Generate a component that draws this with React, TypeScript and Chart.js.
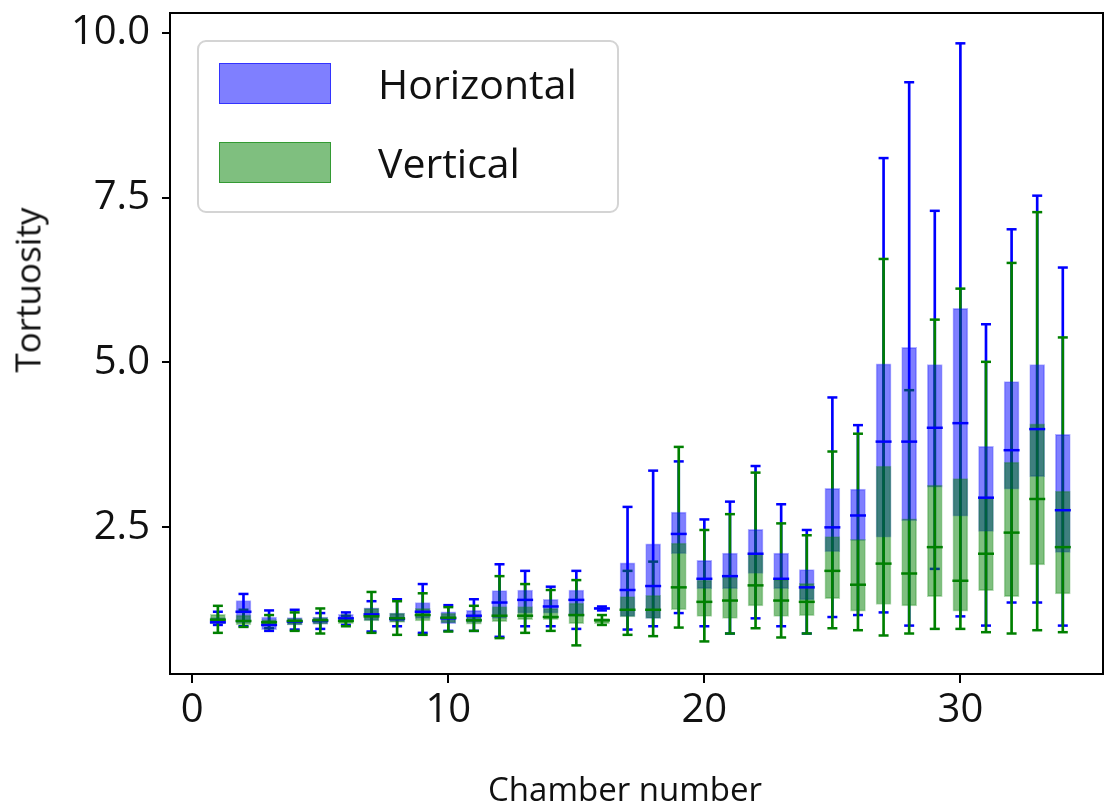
import React, { useEffect, useRef } from "react";
import { Chart, registerables } from "chart.js";

Chart.register(...registerables);

// ---------- data ----------
const chambers = [
  1, 2, 3, 4, 5, 6, 7, 8, 9, 10, 11, 12, 13, 14, 15, 16, 17,
  18, 19, 20, 21, 22, 23, 24, 25, 26, 27, 28, 29, 30, 31, 32, 33, 34,
];

// Horizontal series: min, Q1, median, Q3, max
const hMin = [1.02, 1.0, 0.93, 0.95, 0.96, 1.02, 0.92, 1.0, 0.9, 0.93, 0.93, 0.84, 1.0, 1.0, 0.96, 1.24, 0.95,
  1.0, 1.2, 1.0, 0.89, 1.12, 1.0, 0.89, 1.14, 1.17, 1.21, 1.01, 1.87, 1.15, 1.01, 1.36, 1.36, 1.01];
const hQ1 = [1.04, 1.05, 0.95, 1.02, 1.03, 1.07, 1.09, 1.07, 1.12, 1.04, 1.06, 1.12, 1.2, 1.2, 1.15, 1.25, 1.15,
  1.12, 2.1, 1.57, 1.57, 1.8, 1.57, 1.4, 2.13, 2.3, 2.35, 2.6, 3.11, 2.67, 2.44, 3.08, 3.27, 2.12];
const hMed = [1.06, 1.22, 1.02, 1.07, 1.08, 1.12, 1.18, 1.11, 1.22, 1.12, 1.16, 1.36, 1.4, 1.3, 1.4, 1.27, 1.55,
  1.61, 2.4, 1.72, 1.76, 2.1, 1.72, 1.59, 2.5, 2.68, 3.8, 3.8, 4.01, 4.08, 2.95, 3.67, 3.99, 2.76];
const hQ3 = [1.13, 1.39, 1.14, 1.13, 1.14, 1.18, 1.28, 1.2, 1.36, 1.22, 1.24, 1.54, 1.55, 1.41, 1.55, 1.29, 1.96,
  2.25, 2.73, 2.0, 2.11, 2.47, 2.11, 1.86, 3.09, 3.08, 4.98, 5.23, 4.97, 5.82, 3.73, 4.71, 4.97, 3.91];
const hMax = [1.22, 1.49, 1.24, 1.25, 1.2, 1.21, 1.38, 1.41, 1.64, 1.32, 1.41, 1.94, 1.84, 1.6, 1.84, 1.3, 2.81,
  3.36, 3.5, 2.62, 2.89, 3.43, 2.85, 2.46, 4.47, 4.05, 8.1, 9.25, 7.3, 9.84, 5.58, 7.02, 7.53, 6.44];

// Vertical series: min, Q1, median, Q3, max
const vMin = [0.9, 0.99, 0.97, 0.93, 0.89, 1.0, 0.9, 0.87, 0.87, 0.92, 0.93, 0.82, 0.9, 0.93, 0.71, 1.02, 0.87,
  0.85, 0.98, 0.77, 0.89, 0.97, 0.83, 0.89, 0.97, 0.94, 0.86, 0.89, 0.96, 0.96, 0.91, 0.89, 0.94, 0.91];
const vQ1 = [1.04, 1.02, 1.0, 1.02, 1.03, 1.04, 1.08, 1.06, 1.08, 1.05, 1.03, 1.07, 1.1, 1.1, 1.04, 1.04, 1.14,
  1.12, 1.25, 1.15, 1.12, 1.31, 1.15, 1.16, 1.42, 1.23, 1.33, 1.31, 1.45, 1.23, 1.54, 1.45, 1.93, 1.49];
const vMed = [1.1, 1.08, 1.06, 1.08, 1.09, 1.08, 1.15, 1.12, 1.17, 1.13, 1.09, 1.16, 1.16, 1.14, 1.17, 1.09, 1.25,
  1.25, 1.59, 1.37, 1.39, 1.62, 1.39, 1.37, 1.84, 1.63, 1.95, 1.8, 2.2, 1.69, 2.1, 2.42, 2.93, 2.2];
const vQ3 = [1.18, 1.17, 1.1, 1.12, 1.13, 1.12, 1.27, 1.2, 1.27, 1.2, 1.15, 1.3, 1.3, 1.27, 1.35, 1.12, 1.45,
  1.47, 2.26, 1.7, 1.75, 2.1, 1.71, 1.65, 2.36, 2.32, 3.43, 2.63, 3.14, 3.24, 2.95, 3.49, 4.07, 3.05];
const vMax = [1.31, 1.25, 1.17, 1.21, 1.27, 1.16, 1.52, 1.38, 1.5, 1.29, 1.31, 1.76, 1.64, 1.55, 1.7, 1.17, 1.84,
  1.98, 3.72, 2.46, 2.7, 3.33, 2.56, 2.38, 3.65, 3.92, 6.57, 4.58, 5.65, 6.12, 5.01, 6.51, 7.28, 5.38];

const seriesNames = ["Horizontal", "Vertical"];
const xTickValues = [0, 10, 20, 30];
const yTickValues = [2.5, 5, 7.5, 10];
const xAxisTitle = "Chamber number";
const yAxisTitle = "Tortuosity";

// ---------- styles ----------
const FONT = "'Open Sans', 'DejaVu Sans', sans-serif";
const BLUE = "#0000ff";
const GREEN = "#008000";
const BLUE_FILL = "rgba(0,0,255,0.5)";
const GREEN_FILL = "rgba(0,128,0,0.5)";
const seriesFill = [BLUE_FILL, GREEN_FILL];
const seriesEdge = ["rgba(0,0,255,0.6)", "rgba(0,128,0,0.6)"];

const ranges = (lo: number[], hi: number[]) =>
  chambers.map((c, i) => ({ x: c, y: [lo[i], hi[i]] }));
const points = (vals: number[]) => chambers.map((c, i) => ({ x: c, y: vals[i] }));
const capPoints = (lo: number[], hi: number[]) =>
  chambers.flatMap((c, i) => [
    { x: c, y: lo[i] },
    { x: c, y: hi[i] },
  ]);

const framePlugin = {
  id: "frame",
  afterDraw(chart: any) {
    const { ctx, chartArea } = chart;
    const { left, top, right, bottom } = chartArea;
    ctx.save();
    ctx.strokeStyle = "#000";
    ctx.lineWidth = 2;
    ctx.strokeRect(left, top, right - left, bottom - top);
    ctx.restore();
  },
};

export default function App() {
  const canvasRef = useRef<HTMLCanvasElement | null>(null);

  useEffect(() => {
    if (!canvasRef.current) return;
    Chart.defaults.font.family = FONT;

    const whisker = (lo: number[], hi: number[], color: string, order: number) => ({
      type: "bar" as const,
      data: ranges(lo, hi),
      backgroundColor: color,
      borderWidth: 0,
      barThickness: 2,
      grouped: false,
      order,
    });
    const caps = (lo: number[], hi: number[], color: string, order: number) => ({
      type: "scatter" as const,
      data: capPoints(lo, hi),
      pointStyle: "line",
      pointRadius: 5,
      pointHoverRadius: 5,
      borderColor: color,
      backgroundColor: color,
      borderWidth: 2.5,
      showLine: false,
      order,
    });
    const box = (lo: number[], hi: number[], fill: string, edge: string, order: number) => ({
      type: "bar" as const,
      data: ranges(lo, hi),
      backgroundColor: fill,
      borderColor: edge,
      borderWidth: 1,
      borderSkipped: false,
      barThickness: 15,
      grouped: false,
      order,
    });
    const median = (vals: number[], color: string, order: number) => ({
      type: "scatter" as const,
      data: points(vals),
      pointStyle: "line",
      pointRadius: 8,
      pointHoverRadius: 8,
      borderColor: color,
      backgroundColor: color,
      borderWidth: 2.5,
      showLine: false,
      order,
    });

    const tickGrid = {
      display: true,
      drawOnChartArea: false,
      drawTicks: true,
      tickLength: 8,
      color: "#000",
      lineWidth: 2,
      offset: false,
    };

    const chart = new Chart(canvasRef.current, {
      type: "bar",
      data: {
        datasets: [
          whisker(hMin, hMax, BLUE, 12),
          caps(hMin, hMax, BLUE, 11),
          whisker(vMin, vMax, GREEN, 10),
          caps(vMin, vMax, GREEN, 9),
          box(hQ1, hQ3, BLUE_FILL, "rgba(0,0,255,0.3)", 8),
          box(vQ1, vQ3, GREEN_FILL, "rgba(0,128,0,0.3)", 7),
          median(hMed, BLUE, 6),
          median(vMed, GREEN, 5),
        ] as any,
      },
      options: {
        animation: false,
        responsive: false,
        devicePixelRatio: 1,
        layout: { autoPadding: false, padding: { top: 13, right: 2, left: 0, bottom: 0 } },
        plugins: {
          legend: { display: false },
          tooltip: { enabled: false },
        },
        scales: {
          x: {
            type: "linear",
            min: -0.87,
            max: 35.57,
            offset: false,
            afterBuildTicks: (s: any) => {
              s.ticks = xTickValues.map((v) => ({ value: v }));
            },
            afterFit: (s: any) => {
              s.height = 136;
              s.paddingLeft = 0;
              s.paddingRight = 0;
            },
            grid: { ...tickGrid, tickLength: 9 },
            border: { display: false },
            ticks: {
              font: { family: FONT, size: 40 },
              color: "#111",
              padding: 4,
              maxRotation: 0,
              autoSkip: false,
            },
          },
          y: {
            type: "linear",
            min: 0.276,
            max: 10.3,
            afterBuildTicks: (s: any) => {
              s.ticks = yTickValues.map((v) => ({ value: v }));
            },
            afterFit: (s: any) => {
              s.width = 170;
              s.paddingTop = 0;
              s.paddingBottom = 0;
            },
            grid: tickGrid,
            border: { display: false },
            ticks: {
              font: { family: FONT, size: 40 },
              color: "#111",
              padding: 12,
              autoSkip: false,
              callback: (v: any) => Number(v).toFixed(1),
            },
          },
        },
      } as any,
      plugins: [framePlugin],
    });
    return () => chart.destroy();
  }, []);

  return (
    <div
      style={{
        position: "absolute",
        left: 0,
        top: 0,
        width: 1105,
        height: 810,
        background: "#fff",
        fontFamily: FONT,
        overflow: "hidden",
      }}
    >
      <canvas ref={canvasRef} width={1105} height={810} style={{ display: "block" }} />
      {/* legend */}
      <div
        style={{
          position: "absolute",
          left: 197,
          top: 40,
          width: 418,
          height: 169,
          border: "2px solid #d4d4d4",
          borderRadius: 9,
          background: "rgba(255,255,255,0.85)",
        }}
      >
        {seriesNames.map((name, i) => (
          <div
            key={name}
            style={{
              position: "absolute",
              left: 0,
              top: i === 0 ? 21 : 100,
              height: 41,
              width: 418,
            }}
          >
            <div
              style={{
                position: "absolute",
                left: 20,
                top: 0,
                width: 112,
                height: 41,
                boxSizing: "border-box",
                background: seriesFill[i],
                border: `1.5px solid ${seriesEdge[i]}`,
              }}
            />
            <div
              style={{
                position: "absolute",
                left: 179,
                top: 0,
                height: 41,
                lineHeight: "41px",
                fontSize: 41,
                color: "#111",
                whiteSpace: "nowrap",
              }}
            >
              {name}
            </div>
          </div>
        ))}
      </div>
      {/* axis titles */}
      <div
        style={{
          position: "absolute",
          left: 625,
          top: 788,
          transform: "translate(-50%, -50%)",
          fontSize: 33,
          lineHeight: 1,
          color: "#111",
          whiteSpace: "nowrap",
        }}
      >
        {xAxisTitle}
      </div>
      <div
        style={{
          position: "absolute",
          left: 27,
          top: 290,
          transform: "translate(-50%, -50%) rotate(-90deg)",
          fontSize: 35,
          lineHeight: 1,
          color: "#111",
          whiteSpace: "nowrap",
        }}
      >
        {yAxisTitle}
      </div>
    </div>
  );
}
